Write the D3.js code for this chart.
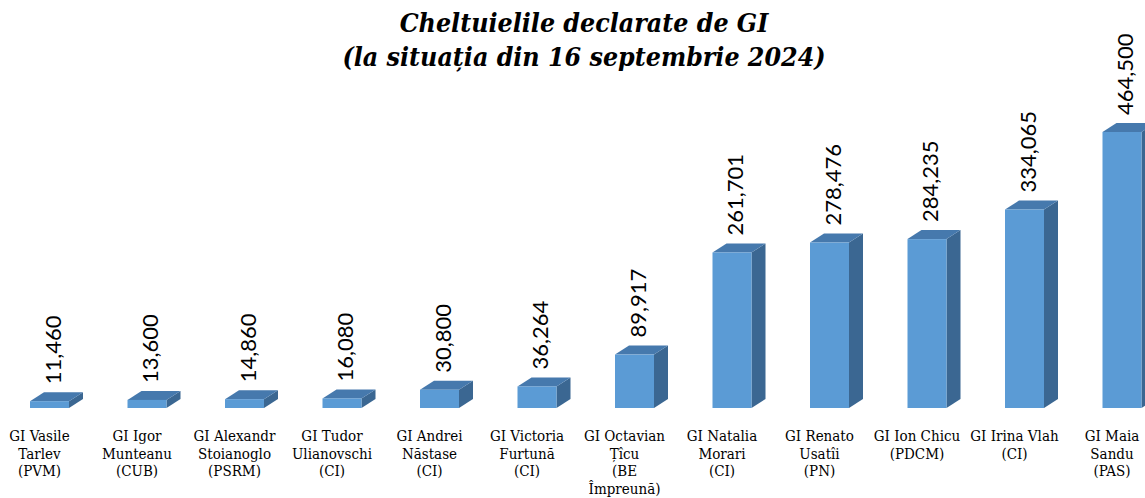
<!DOCTYPE html>
<html>
<head>
<meta charset="utf-8">
<script src="https://cdn.jsdelivr.net/npm/d3@7"></script>
<style>
  html, body { margin: 0; padding: 0; background: #fff; }
  svg { display: block; }
</style>
</head>
<body>
<svg id="chart" width="1145" height="498"></svg>
<script>
const categories = [
  ["GI Vasile", "Tarlev", "(PVM)"],
  ["GI Igor", "Munteanu", "(CUB)"],
  ["GI Alexandr", "Stoianoglo", "(PSRM)"],
  ["GI Tudor", "Ulianovschi", "(CI)"],
  ["GI Andrei", "Năstase", "(CI)"],
  ["GI Victoria", "Furtună", "(CI)"],
  ["GI Octavian", "Țîcu", "(BE", "Împreună)"],
  ["GI Natalia", "Morari", "(CI)"],
  ["GI Renato", "Usatîi", "(PN)"],
  ["GI Ion Chicu", "(PDCM)"],
  ["GI Irina Vlah", "(CI)"],
  ["GI Maia", "Sandu", "(PAS)"]
];
const values = [11460, 13600, 14860, 16080, 30800, 36264, 89917, 261701, 278476, 284235, 334065, 464500];
const titleLines = ["Cheltuielile declarate de GI", "(la situația din 16 septembrie 2024)"];

const svg = d3.select("#chart");
const keys = categories.map((c, i) => i);

const x = d3.scalePoint().domain(keys).range([49.5, 1122]);
const y = d3.scaleLinear().domain([0, 464500]).range([408, 132]);
const barW = x.step() * 0.4;
const dx = 14, dy = 9;

const fmt = d3.format(",");

// title
svg.append("g").selectAll("text").data(titleLines).join("text")
  .attr("x", 584)
  .attr("y", (d, i) => 32 + i * 34)
  .attr("text-anchor", "middle")
  .style("font-family", "'DejaVu Serif', serif")
  .style("font-stretch", "condensed")
  .style("font-weight", "bold")
  .style("font-style", "italic")
  .style("font-size", "26.5px")
  .attr("fill", "#000")
  .text(d => d);

const bars = svg.append("g").selectAll("g").data(values).join("g");

// side face
bars.append("path")
  .attr("fill", "#3b6792")
  .attr("d", (d, i) => {
    const x1 = x(i) + barW / 2, yt = y(d), yb = y(0);
    return `M${x1},${yb} L${x1},${yt} L${x1 + dx},${yt - dy} L${x1 + dx},${yb - dy} Z`;
  });
// top face
bars.append("path")
  .attr("fill", "#4679ad")
  .attr("d", (d, i) => {
    const x0 = x(i) - barW / 2, x1 = x(i) + barW / 2, yt = y(d);
    return `M${x0},${yt} L${x1},${yt} L${x1 + dx},${yt - dy} L${x0 + dx},${yt - dy} Z`;
  });
// front face
bars.append("rect")
  .attr("fill", "#5b9bd5")
  .attr("x", (d, i) => x(i) - barW / 2)
  .attr("y", d => y(d))
  .attr("width", barW)
  .attr("height", d => y(0) - y(d));

// value labels
bars.append("text")
  .attr("transform", (d, i) => `translate(${x(i) + 11},${y(d) - dy - 8}) rotate(-90)`)
  .attr("text-anchor", "start")
  .style("font-family", "Lato, 'Open Sans', sans-serif")
  .style("font-size", "22px")
  .attr("fill", "#000")
  .text(d => fmt(d));

// category labels
const lab = svg.append("g").selectAll("text").data(categories).join("text")
  .attr("text-anchor", "middle")
  .style("font-family", "'DejaVu Serif', serif")
  .style("font-stretch", "condensed")
  .style("font-size", "15px")
  .attr("fill", "#000");
lab.selectAll("tspan").data((d, i) => d.map(t => ({t, i}))).join("tspan")
  .attr("x", d => x(d.i) - 10)
  .attr("y", (d, j) => 441 + j * 17.5)
  .text(d => d.t);
</script>
</body>
</html>
